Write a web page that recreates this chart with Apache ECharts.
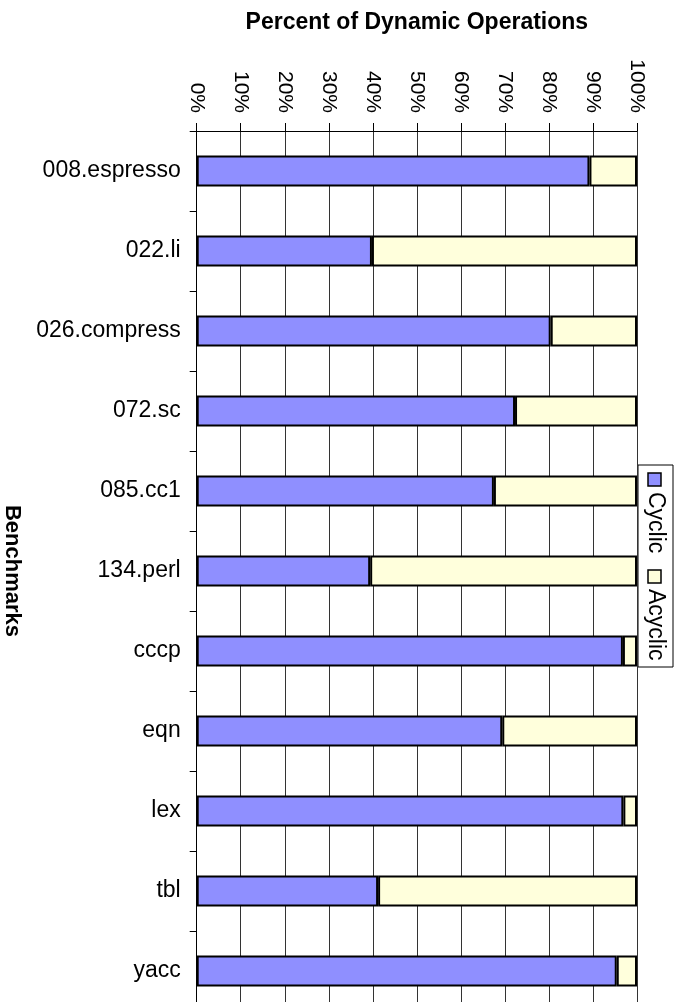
<!DOCTYPE html>
<html>
<head>
<meta charset="utf-8">
<script src="https://cdn.jsdelivr.net/npm/echarts@6/dist/echarts.min.js"></script>
<style>
  html, body { margin: 0; padding: 0; background: #fff; }
  #chart { width: 682px; height: 1002px; }
</style>
</head>
<body>
<div id="chart"></div>
<script>
// Benchmarks, top to bottom
var benchmarks = ['008.espresso', '022.li', '026.compress', '072.sc', '085.cc1',
                  '134.perl', 'cccp', 'eqn', 'lex', 'tbl', 'yacc'];
// Share of dynamic operations (%) in cyclic code
var cyclic = [89.2, 39.8, 80.4, 72.3, 67.5, 39.4, 96.8, 69.4, 96.9, 41.2, 95.4];
// Remainder: acyclic code
var acyclic = [10.8, 60.2, 19.6, 27.7, 32.5, 60.6, 3.2, 30.6, 3.1, 58.8, 4.6];
var seriesNames = ['Cyclic', 'Acyclic'];
var seriesColors = ['#8f8fff', '#ffffdc'];

var FONT = 'Liberation Sans, Arial, sans-serif';
var chart = echarts.init(document.getElementById('chart'), null, { renderer: 'canvas' });

function barSeries(name, data, color) {
  return {
    name: name,
    type: 'bar',
    stack: 'ops',
    data: data,
    barWidth: 31,
    itemStyle: { color: color, borderColor: '#000', borderWidth: 2 }
  };
}

// Legend drawn as a rotated group so its text runs downward
var legendGroup = {
  type: 'group',
  x: 673, y: 465,
  rotation: -Math.PI / 2,
  children: [
    { type: 'rect', shape: { x: 0, y: 0, width: 202, height: 35 },
      style: { fill: '#fff', stroke: '#000', lineWidth: 1 } },
    { type: 'rect', shape: { x: 8, y: 12, width: 13, height: 13 },
      style: { fill: seriesColors[0], stroke: '#000', lineWidth: 1.5 } },
    { type: 'text', x: 27, y: 18,
      style: { text: seriesNames[0], font: '23px ' + FONT, fill: '#000',
               textAlign: 'left', textVerticalAlign: 'middle' } },
    { type: 'rect', shape: { x: 105, y: 12, width: 13, height: 13 },
      style: { fill: seriesColors[1], stroke: '#000', lineWidth: 1.5 } },
    { type: 'text', x: 124, y: 18,
      style: { text: seriesNames[1], font: '23px ' + FONT, fill: '#000',
               textAlign: 'left', textVerticalAlign: 'middle' } }
  ]
};

chart.setOption({
  animation: false,
  backgroundColor: '#fff',
  grid: { left: 196.7, right: 45, top: 131, bottom: -9, outerBoundsMode: 'none', containLabel: false },
  xAxis: {
    type: 'value',
    position: 'top',
    min: 0, max: 100, interval: 10,
    name: 'Percent of Dynamic Operations',
    nameLocation: 'middle',
    nameGap: 97,
    nameTextStyle: { fontFamily: FONT, fontSize: 23, fontWeight: 'bold', color: '#000' },
    axisLine: { show: true, lineStyle: { color: '#000', width: 1 } },
    axisTick: { show: true, length: 8, lineStyle: { color: '#000' } },
    axisLabel: {
      rotate: 90, margin: 18,
      fontFamily: FONT, fontSize: 21, color: '#000',
      formatter: '{value}%'
    },
    splitLine: { show: true, lineStyle: { color: '#333', width: 1 } }
  },
  yAxis: {
    type: 'category',
    data: benchmarks,
    inverse: true,
    name: 'Benchmarks',
    nameLocation: 'middle',
    nameRotate: -90,
    nameGap: 174,
    nameTextStyle: { fontFamily: FONT, fontSize: 22, fontWeight: 'bold', color: '#000' },
    axisLine: { show: true, lineStyle: { color: '#000', width: 1 } },
    axisTick: { show: true, length: 7, lineStyle: { color: '#000' } },
    axisLabel: { margin: 16, fontFamily: FONT, fontSize: 23, color: '#000' },
    splitLine: { show: false }
  },
  series: [
    barSeries(seriesNames[0], cyclic, seriesColors[0]),
    barSeries(seriesNames[1], acyclic, seriesColors[1])
  ],
  graphic: [legendGroup]
});
</script>
</body>
</html>
